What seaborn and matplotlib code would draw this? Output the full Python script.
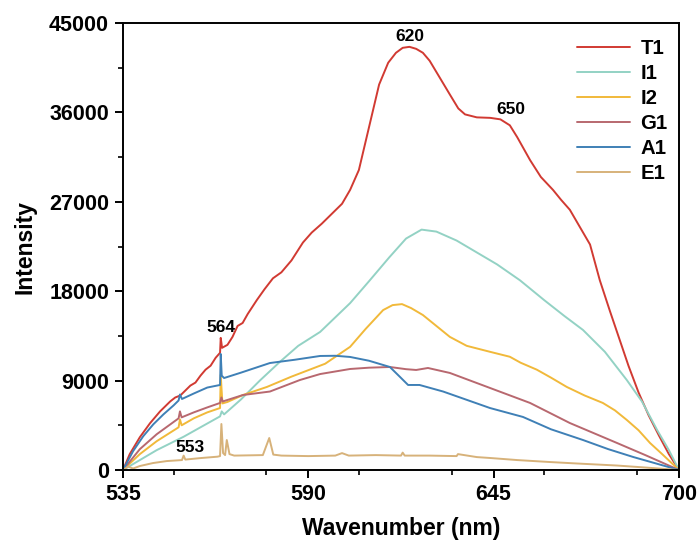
import matplotlib
matplotlib.use("Agg")
import matplotlib.pyplot as plt
import numpy as np
import pandas as pd
import seaborn as sns
from matplotlib.ticker import MultipleLocator

# emission spectra (wavelength in nm, intensity in counts)
t1_x = [535, 537, 540, 543, 546, 549, 550.5, 552, 553.5, 555, 556.5, 558, 559.5, 561, 562.5,
        563.8, 564, 564.4, 566, 567.5, 569, 570.5, 572, 574.7, 577, 579.5, 582, 585, 588.4,
        591, 594, 597.3, 600, 602.4, 605, 608, 611, 613.7, 616, 618, 620, 622, 624, 626, 629,
        632, 634.5, 636.5, 640, 644, 647, 649.8, 652, 655.8, 659, 662.6, 665, 667.6, 670,
        673.6, 676.5, 679.5, 682, 685, 688, 691, 694, 697, 700]
t1_y = [0, 1600, 3300, 4700, 5900, 6900, 7300, 7500, 8000, 8500, 8800, 9500, 10100, 10500, 11300,
        11800, 13300, 12300, 12600, 13400, 14500, 14800, 15700, 17100, 18200, 19300, 19900, 21100, 22900,
        23900, 24800, 25900, 26800, 28200, 30200, 34500, 38800, 41000, 42000, 42500, 42600, 42400, 42000,
        41200, 39500, 37800, 36400, 35800, 35500, 35450, 35300, 34700, 33500, 31200, 29500, 28200, 27200,
        26200, 24800, 22700, 19100, 16000, 13500, 10500, 7800, 5500, 3500, 1600, 0]

i1_x = [535, 540, 545, 553, 558, 563.8, 564.3, 565, 570, 575.6, 581.6, 587, 593.5, 602.4,
        608, 614, 619, 623.6, 628, 634, 640, 646, 652.8, 660, 666, 671.5, 678, 684.5,
        689, 693.5, 697, 700]
i1_y = [0, 1000, 2000, 3350, 4300, 5400, 5900, 5600, 7100, 9000, 10900, 12500, 13900, 16800,
        19000, 21400, 23300, 24200, 24000, 23100, 21900, 20700, 19100, 17100, 15500, 14100, 11900, 9060,
        6900, 4030, 2000, 0]

i2_x = [535, 540, 545, 551.5, 551.9, 552.4, 556, 560, 563.8, 564, 564.5, 566, 570.6, 577.7,
        585, 595, 602.4, 607, 612.2, 615, 617.8, 620.5, 624, 628, 632, 637, 643.9, 649.8,
        653, 657.8, 662, 666.7, 672, 677.4, 681, 684.5, 688, 691.4, 695, 700]
i2_y = [0, 1600, 2900, 4300, 5100, 4500, 5200, 5800, 6240, 9570, 6700, 6850, 7550, 8360,
        9400, 10700, 12400, 14200, 16100, 16600, 16700, 16300, 15600, 14500, 13400, 12500, 11900, 11400,
        10800, 10100, 9300, 8360, 7500, 6750, 6000, 5040, 4000, 2720, 1600, 0]

g1_x = [535, 540, 545, 551.5, 551.9, 552.4, 556, 560, 563.8, 564.2, 564.6, 570.6, 578.6,
        587.5, 593.5, 602.4, 608, 614.2, 619, 622, 625.5, 632, 643.9, 655.8, 667.6, 681.6,
        690, 700]
g1_y = [0, 2100, 3600, 5200, 5900, 5300, 5800, 6300, 6750, 7300, 6900, 7550, 7900,
        9060, 9660, 10170, 10300, 10370, 10150, 10070, 10270, 9770, 8260, 6750, 4730, 2720,
        1500, 0]

a1_x = [535, 538, 541, 544, 547, 550, 551.5, 551.9, 552.5, 556, 560, 563.8, 564, 564.3, 565,
        570, 578.6, 586, 593.5, 598, 602.4, 608, 614.2, 617.2, 619.6, 623, 630, 643.9,
        653.7, 662, 671.5, 679, 686.4, 700]
a1_y = [0, 1900, 3400, 4600, 5600, 6500, 7000, 7600, 7150, 7700, 8300, 8560, 11680, 9500, 9260,
        9800, 10770, 11100, 11480, 11500, 11380, 11000, 10370, 9370, 8560, 8560, 7900, 6240,
        5340, 4100, 3020, 2100, 1310, 0]

e1_x = [535, 536.5, 538, 540, 543.9, 548, 552.5, 553, 553.5, 558, 563, 563.8, 564.2, 564.7,
        565.3, 565.8, 566.6, 568, 576.5, 578.4, 579.6, 582, 590, 598, 600, 602, 610, 617.5,
        618, 618.6, 626, 634, 634.4, 640, 643.9, 652, 661.8, 670, 681.6, 690, 700]
e1_y = [0, 350, 150, 400, 700, 900, 1000, 1450, 1050, 1200, 1340, 1400, 4630, 1700,
        1500, 3020, 1600, 1450, 1500, 3220, 1550, 1450, 1400, 1450, 1700, 1450, 1500, 1450,
        1750, 1450, 1450, 1400, 1600, 1300, 1210, 1000, 800, 650, 450, 250, 0]

series = [("T1", t1_x, t1_y, "#d13a32"),
          ("I1", i1_x, i1_y, "#93d2c4"),
          ("I2", i2_x, i2_y, "#f1b93a"),
          ("G1", g1_x, g1_y, "#b8686f"),
          ("A1", a1_x, a1_y, "#3f80b6"),
          ("E1", e1_x, e1_y, "#d7b27a")]

peak_labels = ["620", "650", "564", "553"]
peak_pos = [(620, 42900), (650, 35500), (564, 13600), (555, 1500)]

sns.set_style("ticks")
plt.rcParams["font.family"] = ["Liberation Sans", "DejaVu Sans"]
plt.rcParams["font.weight"] = "bold"
for key in ["text.color", "axes.labelcolor", "xtick.color", "ytick.color", "axes.edgecolor"]:
    plt.rcParams[key] = "black"

fig = plt.figure(figsize=(6.98, 5.43), dpi=100)
ax = fig.add_axes([123 / 698, 73 / 543, 556 / 698, 447 / 543])

for name, xs, ys, col in series:
    df = pd.DataFrame({"x": xs, "y": ys})
    sns.lineplot(data=df, x="x", y="y", ax=ax, color=col, lw=1.4, label=name,
                 sort=False, estimator=None)

for txt, (px, py) in zip(peak_labels, peak_pos):
    ax.text(px, py, txt, ha="center", va="bottom", fontsize=12.5, fontweight="bold")

ax.set_xlim(535, 700)
ax.set_ylim(0, 45000)
ax.set_xticks([535, 590, 645, 700])
ax.xaxis.set_minor_locator(MultipleLocator(27.5))
ax.set_yticks(np.arange(0, 45001, 9000))
ax.yaxis.set_minor_locator(MultipleLocator(4500))

ax.tick_params(axis="both", which="major", direction="out", length=6, width=1.4,
               labelsize=15.5, pad=4)
ax.tick_params(axis="both", which="minor", direction="out", length=3.5, width=1.2)
for lab in ax.get_xticklabels() + ax.get_yticklabels():
    lab.set_fontweight("bold")
for sp in ax.spines.values():
    sp.set_visible(True)
    sp.set_linewidth(1.4)
    sp.set_color("black")

ax.set_xlabel("Wavenumber (nm)", fontsize=16.5, fontweight="bold", labelpad=9)
ax.set_ylabel("Intensity", fontsize=16.5, fontweight="bold", labelpad=9)

leg = ax.legend(loc="upper right", bbox_to_anchor=(1.0, 0.99), frameon=False,
                fontsize=14.7, handlelength=2.6, labelspacing=0.3, borderaxespad=0.15,
                handletextpad=0.5)
for t in leg.get_texts():
    t.set_fontweight("bold")

fig.savefig("out.png", dpi=100)
